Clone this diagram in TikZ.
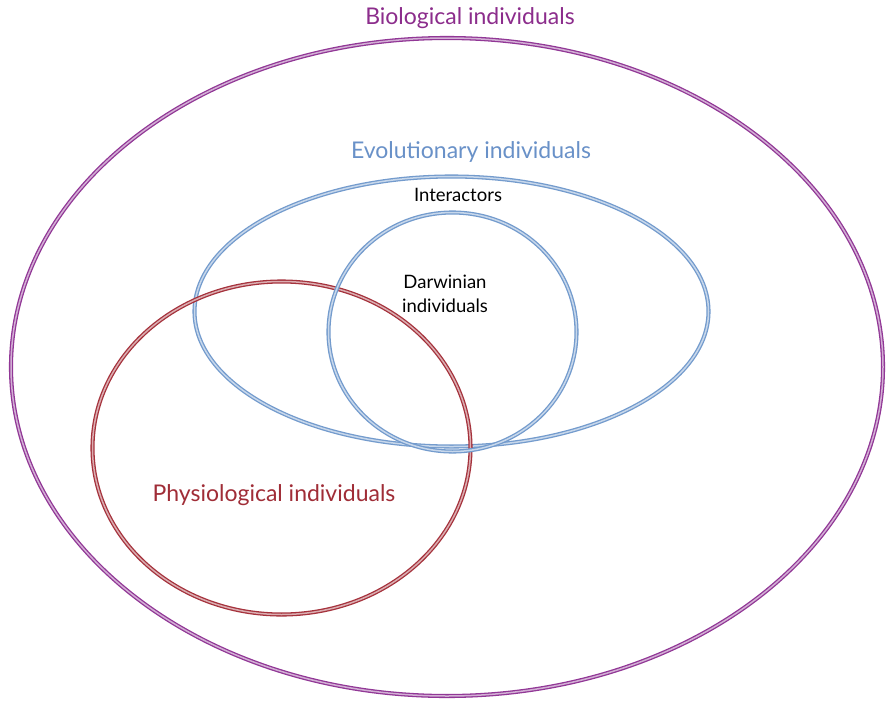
\documentclass[tikz,border=0pt]{standalone}
\usepackage{fontspec}
\setmainfont{Lato}
\definecolor{bioc}{RGB}{145,55,150}
\definecolor{evoc}{RGB}{115,155,205}
\definecolor{phyc}{RGB}{165,50,60}
\definecolor{biot}{RGB}{140,45,140}
\definecolor{evot}{RGB}{105,145,200}
\definecolor{phyt}{RGB}{160,45,55}
\tikzset{
  ring/.style={draw=#1, line width=1.3pt, double=#1!40, double distance=1.5pt},
  lab/.style={font=\fontsize{23}{26}\selectfont, inner sep=0pt},
  blab/.style={font=\fontsize{18.5}{24}\selectfont, inner sep=0pt, align=center, text=black}
}
\begin{document}
\begin{tikzpicture}[x=1pt,y=-1pt]
\useasboundingbox (0,0) rectangle (887,702);
\fill[white] (0,0) rectangle (887,702);
\draw[ring=bioc] (447,367) ellipse [x radius=436, y radius=329];
\draw[ring=evoc] (451.5,311.5) ellipse [x radius=257, y radius=135];
\draw[ring=phyc] (281.5,448) ellipse [x radius=189, y radius=166.5];
\draw[ring=evoc] (452.5,332) ellipse [x radius=124, y radius=119.5];
\node[lab, text=biot] (bio) at (470,18) {Biological individuals};
\node[lab, text=evot] (evo) at (471,152) {Evolutionary individuals};
\node[lab, text=phyt] (phy) at (274,495) {Physiological individuals};
\node[blab] (int) at (458,195) {Interactors};
\node[blab] (dar) at (445,294) {Darwinian\\individuals};
\end{tikzpicture}
\end{document}
